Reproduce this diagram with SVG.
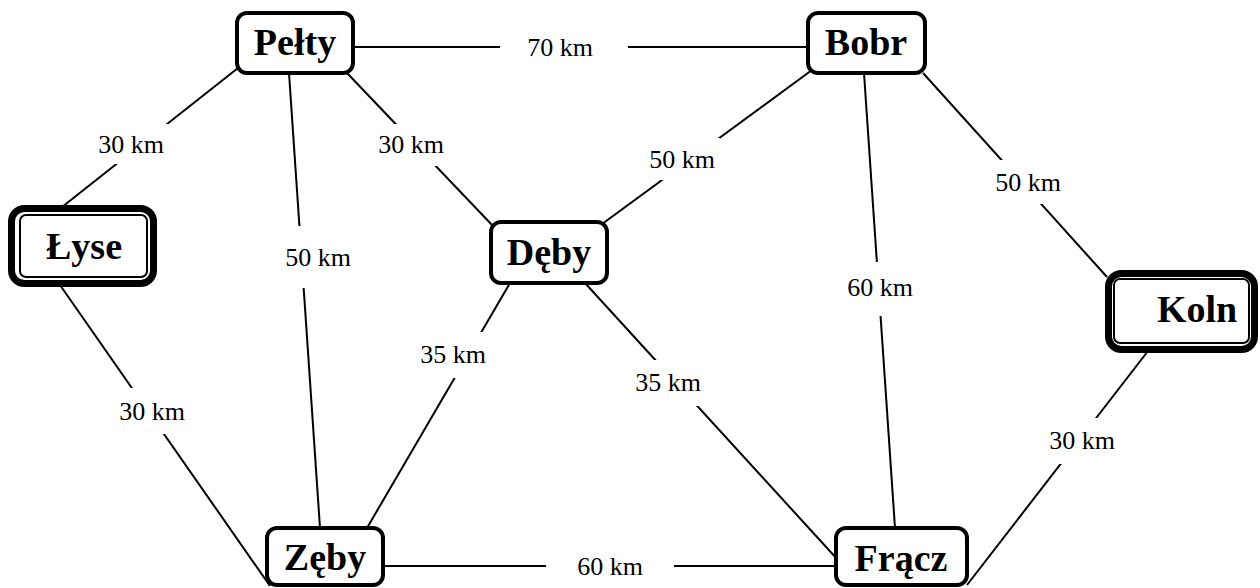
<svg xmlns="http://www.w3.org/2000/svg" width="1260" height="588" viewBox="0 0 1260 588">
<style>
.e line{stroke:#000;stroke-width:2}
.lb rect{fill:#fff}
.lb text{font-family:"Liberation Serif",serif;font-size:26px;text-anchor:middle;fill:#000}
.n{fill:#fff;stroke:#000;stroke-width:4}
.o{fill:#fff;stroke:#000;stroke-width:7}
.i{fill:none;stroke:#000;stroke-width:2}
.t{font-family:"Liberation Serif",serif;font-weight:bold;font-size:38px;text-anchor:middle;fill:#000}
</style>
<rect width="1260" height="588" fill="#fff"/>
<g id="connectors" class="e">
<line x1="353" y1="47" x2="808" y2="47"/>
<line x1="238" y1="68" x2="62" y2="207"/>
<line x1="289" y1="73" x2="320" y2="528"/>
<line x1="347" y1="73" x2="493" y2="226"/>
<line x1="812" y1="70" x2="598" y2="227"/>
<line x1="864" y1="73" x2="895" y2="528"/>
<line x1="923" y1="73" x2="1107" y2="277"/>
<line x1="60" y1="285" x2="270" y2="586"/>
<line x1="510" y1="283" x2="367" y2="528"/>
<line x1="585" y1="283" x2="838" y2="560"/>
<line x1="383" y1="566" x2="836" y2="566"/>
<line x1="1148" y1="351" x2="967" y2="585"/>
</g>
<g id="labels" class="lb">
<rect x="500" y="22" width="128" height="52"/><text x="560" y="56">70 km</text>
<rect x="94" y="124" width="76" height="40"/><text x="131" y="153">30 km</text>
<rect x="280" y="226" width="76" height="62"/><text x="318" y="266">50 km</text>
<rect x="374" y="124" width="76" height="42"/><text x="411" y="153">30 km</text>
<rect x="644" y="138" width="76" height="42"/><text x="682" y="168">50 km</text>
<rect x="842" y="262" width="76" height="54"/><text x="880" y="296">60 km</text>
<rect x="990" y="160" width="76" height="44"/><text x="1028" y="191">50 km</text>
<rect x="114" y="388" width="76" height="46"/><text x="152" y="420">30 km</text>
<rect x="415" y="332" width="76" height="46"/><text x="453" y="363">35 km</text>
<rect x="630" y="360" width="76" height="46"/><text x="668" y="391">35 km</text>
<rect x="546" y="542" width="128" height="46"/><text x="610" y="575">60 km</text>
<rect x="1044" y="418" width="76" height="46"/><text x="1082" y="449">30 km</text>
</g>
<g id="node-pelty"><rect class="n" x="237" y="13" width="116" height="60" rx="10"/><text class="t" x="295" y="55">Pełty</text></g>
<g id="node-bobr"><rect class="n" x="808" y="13" width="117" height="60" rx="10"/><text class="t" x="866" y="55">Bobr</text></g>
<g id="node-lyse"><rect class="o" x="11.5" y="208.5" width="142" height="75" rx="13"/><rect class="i" x="20" y="215" width="127" height="62" rx="6"/><text class="t" x="84" y="259">Łyse</text></g>
<g id="node-deby"><rect class="n" x="491" y="222" width="116" height="61" rx="10"/><text class="t" x="549" y="265">Dęby</text></g>
<g id="node-koln"><rect class="o" x="1108.5" y="273.5" width="146" height="76" rx="13"/><rect class="i" x="1114" y="279" width="135" height="64" rx="6"/><text class="t" x="1197" y="322">Koln</text></g>
<g id="node-zeby"><rect class="n" x="267" y="528" width="116" height="57" rx="10"/><text class="t" x="325" y="570">Zęby</text></g>
<g id="node-fracz"><rect class="n" x="836" y="528" width="131" height="57" rx="10"/><text class="t" x="901" y="571">Frącz</text></g>
</svg>
